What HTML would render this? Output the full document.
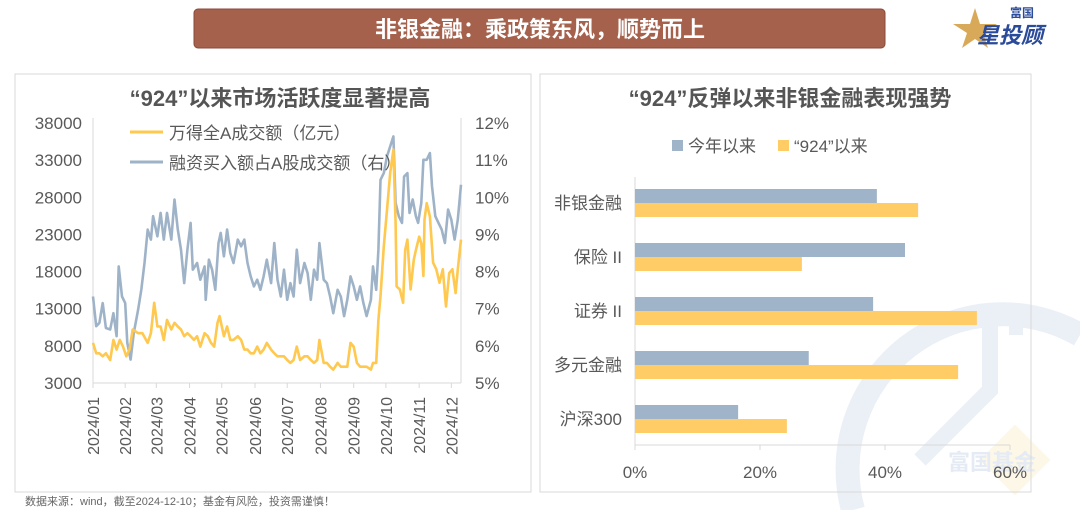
<!DOCTYPE html>
<html><head><meta charset="utf-8"><style>
body{margin:0;width:1080px;height:510px;background:#fff;overflow:hidden;font-family:"Liberation Sans","Noto Sans CJK SC",sans-serif;}
svg text{font-family:"Liberation Sans","Noto Sans CJK SC",sans-serif;}
</style></head><body>
<svg width="1080" height="510" viewBox="0 0 1080 510" xmlns="http://www.w3.org/2000/svg">
<g opacity="0.6">
<path d="M853 510 A155 155 0 0 1 1080 335" fill="none" stroke="#dfe7f3" stroke-width="24"/>
<path d="M990 310 L990 390 L920 460" fill="none" stroke="#dfe7f3" stroke-width="16"/>
<path d="M1016 310 L1016 335" fill="none" stroke="#dfe7f3" stroke-width="14"/>
<rect x="990" y="435" width="50" height="50" fill="#fdf3d9" transform="rotate(45 1015 460)"/>
<text x="948" y="470" font-size="22" font-weight="bold" fill="#d3deee">富国基金</text>
</g>
<g>
<rect x="194" y="9" width="691" height="39" rx="4" fill="#a5614c" stroke="#8a4a38"/>
<text x="540" y="37" text-anchor="middle" font-size="22" font-weight="bold" fill="#fff">非银金融：乘政策东风，顺势而上</text>
</g>
<g>
<polygon points="975,8 980,24 997,24 983,33 988,48 975,39 962,48 967,33 953,24 970,24" fill="#d9a95a"/>
<text x="1010" y="17" font-size="12" font-weight="bold" fill="#2a4a9a">富国</text>
<text x="977" y="43" font-size="22" font-weight="bold" font-style="italic" fill="#2a4a9a">星投顾</text>
</g>
<rect x="15" y="74" width="516" height="418" fill="none" stroke="#d9d9d9"/>
<line x1="540" y1="74" x2="540" y2="492" stroke="#aaa" stroke-dasharray="3,3"/>
<rect x="540" y="74" width="491" height="418" fill="none" stroke="#d9d9d9"/>
<text x="280" y="106" text-anchor="middle" font-size="22" font-weight="bold" fill="#555">“924”以来市场活跃度显著提高</text>
<text x="790" y="106" text-anchor="middle" font-size="22" font-weight="bold" fill="#555">“924”反弹以来非银金融表现强势</text>
<g id="left"></g>
<g id="right"></g>
<text x="25" y="505" font-size="11" fill="#666">数据来源：wind，截至2024-12-10；基金有风险，投资需谨慎！</text>
</svg>
<script>
const turnoverDays=[0,3,6,9,12,16,19,22,25,28,31,34,37,42,46,51,54,57,60,63,66,69,73,76,79,82,85,88,91,94,97,100,104,107,110,113,116,118,122,125,128,131,135,138,141,144,147,150,153,156,159,162,166,169,172,175,178,181,184,187,190,193,197,200,203,206,209,211,215,218,221,224,228,231,234,237,240,243,246,249,252,255,259,261,264,266,268,271,274,277,280,282,283,286,289,291,293,296,299,301,304,306,308,309,311,314,317,320,323,326,329,332,335,338,340,343];
const turnoverValues=[8400,7000,7000,6600,7000,6100,8800,7500,8800,7900,6600,7500,10200,9700,9700,8400,9700,13800,10600,10600,8800,11500,10200,11100,10600,10200,9300,9700,9300,8800,9300,7900,9700,9300,8400,7900,11100,12000,9300,10600,8800,8800,9300,8800,7500,7500,7000,7000,7900,7000,7500,8400,7500,7000,6600,6600,6600,6100,5700,6100,7900,6100,6600,6600,6100,5700,6100,8800,5700,5700,5200,4800,5700,5200,5200,5200,8400,7900,5700,5200,5200,5200,4800,5700,5700,11500,14700,21400,26300,31300,34400,24500,16000,15600,13800,20900,22300,15600,19600,20900,22700,21800,17400,25000,27200,25400,19200,18300,16500,18300,13300,17800,18300,15100,18300,22300];
const marginDays=[0,3,6,9,12,16,19,22,24,27,30,32,35,38,42,45,48,51,54,56,60,63,66,69,73,76,79,82,85,88,91,93,97,100,104,105,108,111,114,117,119,122,125,128,131,135,138,141,144,147,150,153,156,159,162,166,169,172,175,178,181,184,187,190,193,197,200,203,206,209,211,215,218,221,224,228,231,234,237,240,243,246,249,252,255,259,261,264,266,268,271,274,277,280,282,285,288,290,293,295,298,301,303,306,308,311,314,316,319,322,325,328,331,334,337,340,343];
const marginPct=[7.33,6.53,6.62,7.15,6.48,6.44,6.88,6.26,8.14,7.33,7.15,6.08,5.63,6.35,6.97,7.51,8.23,9.13,8.86,9.49,8.95,9.58,8.86,9.58,8.86,9.94,9.13,8.59,7.69,8.59,9.31,8.05,8.23,7.78,8.14,7.24,8.32,8.05,7.51,8.77,9.04,8.41,9.13,8.50,8.23,8.86,8.68,8.86,8.23,7.87,7.60,7.78,7.51,7.87,8.32,7.69,8.77,7.78,7.33,8.05,7.24,7.69,7.33,8.59,7.69,8.23,7.96,7.24,8.05,7.78,8.77,7.78,7.69,7.33,6.88,7.51,7.33,6.80,7.24,7.87,7.60,7.24,7.60,7.15,6.80,7.24,8.14,7.51,8.59,10.47,10.65,11.10,11.37,11.64,9.85,9.49,9.31,10.56,10.65,9.58,9.94,9.49,9.31,9.85,11.01,11.01,11.19,10.30,9.49,9.31,9.13,8.77,9.67,9.40,8.86,9.40,10.34];
const leftTicks=[3000,8000,13000,18000,23000,28000,33000,38000];
const rightTicks=[5,6,7,8,9,10,11,12];
const monthLabels=["2024/01","2024/02","2024/03","2024/04","2024/05","2024/06","2024/07","2024/08","2024/09","2024/10","2024/11","2024/12"];
const monthStartDays=[0,30,59,90,120,151,181,212,243,273,304,334];

const categories=["非银金融","保险 II","证券 II","多元金融","沪深300"];
const ytdValues=[38.7,43.2,38.1,27.8,16.5];
const since924Values=[45.3,26.7,54.7,51.7,24.3];
const barTicks=[0,20,40,60];

const NS="http://www.w3.org/2000/svg";
function mk(p,tag,at,txt){const e=document.createElementNS(NS,tag);for(const k in at)e.setAttribute(k,at[k]);if(txt!==undefined)e.textContent=txt;p.appendChild(e);return e;}
const L=document.getElementById('left');
const X0=93,X1=461,YT=123,YB=383;
const xs=d=>X0+(d/343)*(X1-X0);
const yl=v=>YB-(v-3000)/35000*(YB-YT);
const yr=v=>YB-(v-5)/7*(YB-YT);
let e;
e=mk(L,'line',{x1:X0,y1:YT-5,x2:X0,y2:YB,stroke:'#d9d9d9'});


e=mk(L,'line',{x1:X1,y1:YT-5,x2:X1,y2:YB,stroke:'#d9d9d9'});


e=mk(L,'line',{x1:X0,y1:YB,x2:X1,y2:YB,stroke:'#d9d9d9'});


leftTicks.forEach(t=>{e=mk(L,'text',{x:82,y:yl(t)+6,'text-anchor':'end','font-size':17,fill:'#595959'},String(t));

});
rightTicks.forEach(t=>{e=mk(L,'text',{x:475,y:yr(t)+6,'font-size':17,fill:'#595959'},t+'%');

});
monthLabels.forEach((m,i)=>{const x=xs(monthStartDays[i]);
mk(L,'line',{x1:x,y1:YB,x2:x,y2:YB+5,stroke:'#d9d9d9'});
e=mk(L,'text',{x:0,y:0,'text-anchor':'end','font-size':16,fill:'#595959',transform:`translate(${x+6},397) rotate(-90)`},m);

});
let p='';marginDays.forEach((d,i)=>{p+=(i?'L':'M')+xs(d).toFixed(1)+' '+yr(marginPct[i]).toFixed(1);});
e=mk(L,'path',{d:p,fill:'none',stroke:'#9fb3c8','stroke-width':2.6,'stroke-linejoin':'round'});


p='';turnoverDays.forEach((d,i)=>{p+=(i?'L':'M')+xs(d).toFixed(1)+' '+yl(turnoverValues[i]).toFixed(1);});
e=mk(L,'path',{d:p,fill:'none',stroke:'#ffc84e','stroke-width':2.6,'stroke-linejoin':'round'});


mk(L,'line',{x1:130,y1:132,x2:163,y2:132,stroke:'#ffc84e','stroke-width':3});
e=mk(L,'text',{x:169,y:139,'font-size':17,fill:'#595959'},'万得全A成交额（亿元）');


mk(L,'line',{x1:130,y1:162,x2:163,y2:162,stroke:'#9fb3c8','stroke-width':3});
e=mk(L,'text',{x:169,y:169,'font-size':17,fill:'#595959'},'融资买入额占A股成交额（右）');



const R=document.getElementById('right');
const BX0=635,BX1=1010,BY0=185,ROW=54;
const xb=v=>BX0+v/60*(BX1-BX0);
mk(R,'rect',{x:672,y:140,width:11,height:11,fill:'#a0b4c9'});
e=mk(R,'text',{x:688,y:152,'font-size':17,fill:'#595959'},'今年以来');


mk(R,'rect',{x:778,y:140,width:11,height:11,fill:'#ffcc66'});
e=mk(R,'text',{x:794,y:152,'font-size':17,fill:'#595959'},'“924”以来');


mk(R,'line',{x1:BX0,y1:177,x2:BX0,y2:445,stroke:'#d9d9d9'});
e=mk(R,'line',{x1:BX0,y1:445,x2:BX1,y2:445,stroke:'#d9d9d9'});


barTicks.forEach(t=>{mk(R,'line',{x1:xb(t),y1:445,x2:xb(t),y2:450,stroke:'#d9d9d9'});
e=mk(R,'text',{x:xb(t),y:478,'text-anchor':'middle','font-size':17,fill:'#595959'},t+'%');

});
categories.forEach((c,i)=>{const y=BY0+i*ROW+4;
e=mk(R,'rect',{x:BX0,y:y,width:xb(ytdValues[i])-BX0,height:14,fill:'#a0b4c9'});


e=mk(R,'rect',{x:BX0,y:y+14,width:xb(since924Values[i])-BX0,height:14,fill:'#ffcc66'});


e=mk(R,'text',{x:622,y:y+20,'text-anchor':'end','font-size':17,fill:'#595959'},c);

});
</script>
</body></html>
